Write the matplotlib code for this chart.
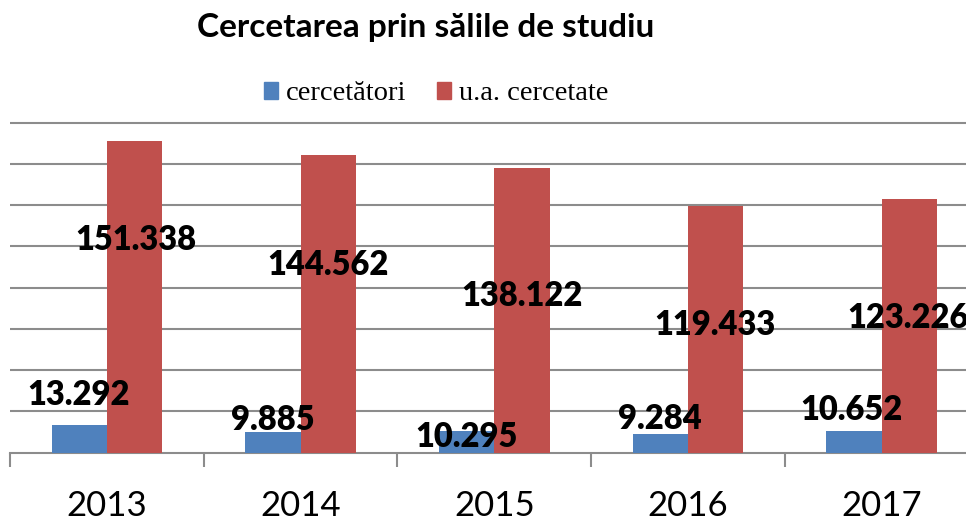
import matplotlib.pyplot as plt
import matplotlib.patches as mpatches
import numpy as np

years = ['2013', '2014', '2015', '2016', '2017']
cercetatori = [13292, 9885, 10295, 9284, 10652]
ua_cercetate = [151338, 144562, 138122, 119433, 123226]

blue = '#4F81BD'
red = '#C0504D'
grid_col = '#8C8C8C'

# label spots (x in category units, y in data units), hand placed like in the source
blue_lbl_pos = [(-0.144, 28000), (0.855, 15900), (1.859, 7600), (2.856, 16300), (3.842, 20700)]
red_lbl_pos = [(0.150, 103100), (1.142, 91000), (2.143, 76000), (3.140, 61900), (4.136, 65300)]


def fmt(v):
    return '{:,}'.format(v).replace(',', '.')


fig = plt.figure(figsize=(9.66, 5.19), dpi=100)
ax = fig.add_axes([10 / 966, 66.3 / 519, 968.5 / 966, 334.1 / 519])

x = np.arange(len(years))
w = 0.2855
ax.bar(x - w / 2, cercetatori, w, color=blue, zorder=3)
ax.bar(x + w / 2, ua_cercetate, w, color=red, zorder=3)

for (px, py), v in zip(blue_lbl_pos, cercetatori):
    ax.text(px, py, fmt(v), ha='center', va='center', fontsize=23.5,
            fontweight='heavy', family='Lato', zorder=5, clip_on=False)
for (px, py), v in zip(red_lbl_pos, ua_cercetate):
    ax.text(px, py, fmt(v), ha='center', va='center', fontsize=23.5,
            fontweight='heavy', family='Lato', zorder=5, clip_on=False)

ax.set_xlim(-0.5, len(years) - 0.5)
ax.set_ylim(0, 162000)
ax.set_yticks(np.arange(20000, 160001, 20000))
ax.yaxis.grid(True, color=grid_col, linewidth=1.5, zorder=0)
ax.tick_params(axis='y', left=False, labelleft=False)

ax.set_xticks(x)
ax.set_xticklabels(years, family='Lato', fontsize=25)
ax.set_xticks(np.arange(-0.5, len(years), 1.0), minor=True)
ax.tick_params(axis='x', which='major', length=0, pad=27)
ax.tick_params(axis='x', which='minor', length=10, width=1.5, color=grid_col, direction='out')

for s in ['top', 'right', 'left']:
    ax.spines[s].set_visible(False)
ax.spines['bottom'].set_color(grid_col)
ax.spines['bottom'].set_linewidth(1.5)

fig.text(426 / 966, 1 - 37.5 / 519, 'Cercetarea prin sălile de studiu', ha='center',
         va='baseline', fontsize=24, fontweight='bold', family='Lato')

handles = [mpatches.Patch(color=blue, label='cercetători'),
           mpatches.Patch(color=red, label='u.a. cercetate')]
fig.legend(handles=handles, loc='center', bbox_to_anchor=(436 / 966, 1 - 94 / 519),
           ncol=2, frameon=False, prop={'family': 'Liberation Serif', 'size': 20.5},
           handlelength=0.5, handleheight=0.5, handletextpad=0.25, columnspacing=1.1)

fig.savefig('out.png', dpi=100)
